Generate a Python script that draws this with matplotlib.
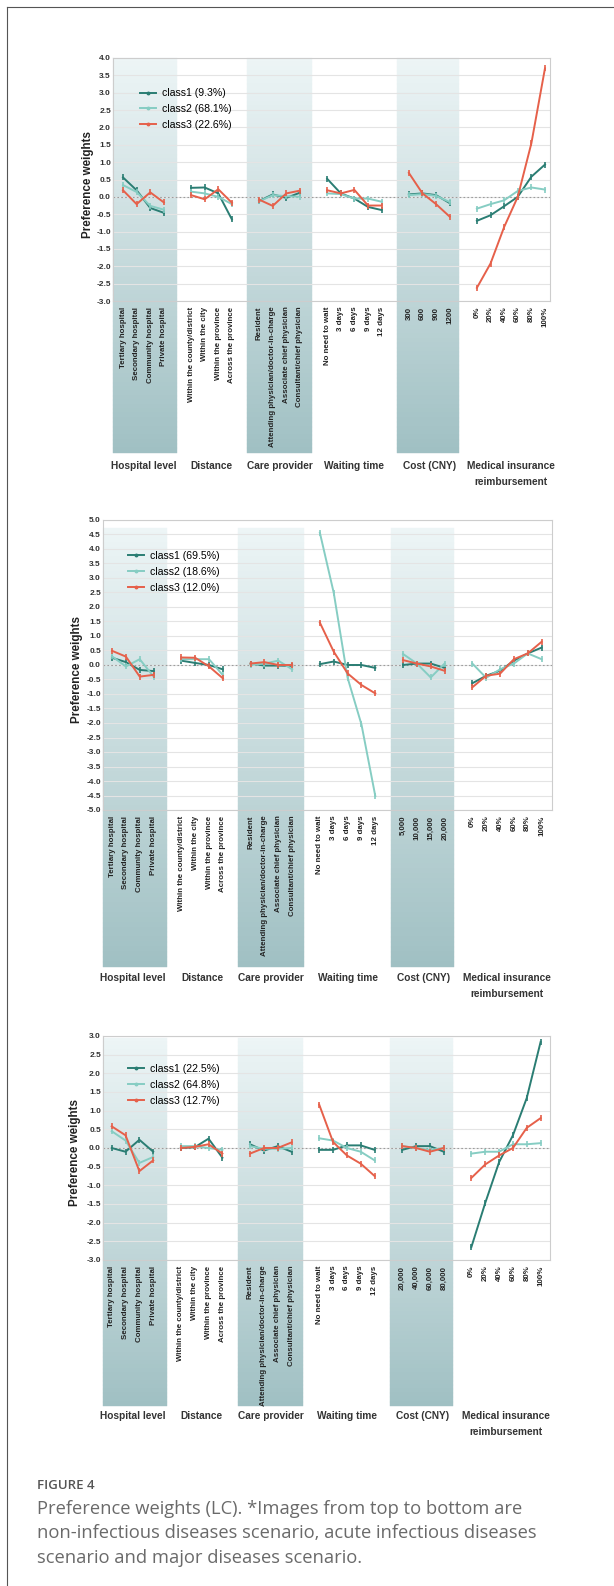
import numpy as np
import matplotlib
matplotlib.use("Agg")
import matplotlib.pyplot as plt
from matplotlib.patches import Rectangle
from matplotlib.lines import Line2D
import matplotlib.colors as mcolors

# ---------------------------------------------------------------- data
group_names = ["Hospital level", "Distance", "Care provider", "Waiting time",
               "Cost (CNY)", "Medical insurance\nreimbursement"]

hospital_levels = ["Tertiary hospital", "Secondary hospital",
                   "Community hospital", "Private hospital"]
distance_levels = ["Within the county/district", "Within the city",
                   "Within the province", "Across the province"]
care_levels = ["Resident", "Attending physician/doctor-in-charge",
               "Associate chief physician", "Consultant/chief physician"]
waiting_levels = ["No need to wait", "3 days", "6 days", "9 days", "12 days"]
cost_levels_noninf = ["300", "600", "900", "1200"]
cost_levels_acute = ["5,000", "10,000", "15,000", "20,000"]
cost_levels_major = ["20,000", "40,000", "60,000", "80,000"]
reimb_levels = ["0%", "20%", "40%", "60%", "80%", "100%"]

# Non-infectious diseases scenario
noninf_labels = ["class1 (9.3%)", "class2 (68.1%)", "class3 (22.6%)"]
noninf_class1 = [[0.56, 0.19, -0.32, -0.46], [0.26, 0.27, 0.10, -0.65],
                 [-0.12, 0.07, -0.03, 0.12], [0.52, 0.10, -0.05, -0.29, -0.38],
                 [0.07, 0.10, 0.05, -0.18], [-0.69, -0.53, -0.27, 0.00, 0.58, 0.93]]
noninf_class2 = [[0.34, 0.14, -0.26, -0.37], [0.15, 0.10, 0.00, -0.21],
                 [-0.13, 0.05, 0.02, 0.00], [0.10, 0.08, -0.05, -0.05, -0.14],
                 [0.05, 0.08, 0.03, -0.15], [-0.34, -0.21, -0.10, 0.17, 0.27, 0.21]]
noninf_class3 = [[0.19, -0.21, 0.13, -0.16], [0.05, -0.07, 0.22, -0.17],
                 [-0.08, -0.26, 0.10, 0.18], [0.19, 0.10, 0.20, -0.25, -0.25],
                 [0.69, 0.10, -0.21, -0.57], [-2.62, -1.92, -0.87, 0.00, 1.54, 3.70]]

# Acute infectious diseases scenario
acute_labels = ["class1 (69.5%)", "class2 (18.6%)", "class3 (12.0%)"]
acute_class1 = [[0.25, 0.10, -0.17, -0.21], [0.15, 0.07, 0.00, -0.15],
                [0.05, -0.02, -0.02, -0.03], [0.03, 0.12, 0.00, 0.00, -0.10],
                [0.00, 0.05, 0.05, -0.10], [-0.63, -0.37, -0.20, 0.15, 0.40, 0.60]]
acute_class2 = [[0.30, -0.05, 0.20, -0.40], [0.20, 0.20, 0.20, -0.35],
                [0.00, 0.05, 0.15, -0.15], [4.56, 2.49, -0.44, -2.05, -4.52],
                [0.38, 0.05, -0.43, 0.05], [0.05, -0.44, -0.15, 0.05, 0.40, 0.20]]
acute_class3 = [[0.49, 0.29, -0.40, -0.34], [0.26, 0.25, -0.05, -0.46],
                [0.05, 0.10, 0.00, 0.00], [1.46, 0.46, -0.29, -0.69, -0.98],
                [0.17, 0.05, -0.05, -0.20], [-0.77, -0.37, -0.30, 0.20, 0.40, 0.80]]

# Major diseases scenario
major_labels = ["class1 (22.5%)", "class2 (64.8%)", "class3 (12.7%)"]
major_class1 = [[0.00, -0.10, 0.22, -0.10], [0.00, 0.02, 0.25, -0.26],
                [0.10, -0.07, 0.05, -0.10], [-0.05, -0.05, 0.07, 0.07, -0.05],
                [-0.05, 0.05, 0.05, -0.10], [-2.65, -1.47, -0.38, 0.34, 1.34, 2.84]]
major_class2 = [[0.45, 0.20, -0.40, -0.24], [0.05, 0.05, 0.00, -0.05],
                [0.05, -0.02, -0.02, 0.00], [0.26, 0.20, 0.00, -0.10, -0.33],
                [0.05, 0.00, -0.05, 0.00], [-0.15, -0.10, -0.10, 0.10, 0.10, 0.13]]
major_class3 = [[0.58, 0.34, -0.62, -0.33], [0.00, 0.03, 0.10, -0.15],
                [-0.15, 0.00, 0.00, 0.15], [1.16, 0.16, -0.20, -0.42, -0.75],
                [0.05, 0.00, -0.10, 0.00], [-0.80, -0.44, -0.20, 0.00, 0.54, 0.80]]

# ---------------------------------------------------------------- style
W, H, DPI = 614, 1586, 100
CLASS_COLORS = ["#2a7d73", "#86cdc3", "#e6604a"]
FONT = ["Liberation Sans", "DejaVu Sans"]
plt.rcParams["font.family"] = FONT

fig = plt.figure(figsize=(W / DPI, H / DPI), dpi=DPI)
fig.patch.set_facecolor("white")


def px_axes(left, top, right, bottom):
    return fig.add_axes([left / W, 1 - bottom / H, (right - left) / W, (bottom - top) / H])


def band(ax, x0, x1, y_top, y_bot, n=90):
    """Vertical teal gradient band, x in data units, y in axes fraction."""
    trans = ax.get_xaxis_transform()
    c_top = np.array(mcolors.to_rgb("#edf5f6"))
    c_bot = np.array(mcolors.to_rgb("#a0c0c3"))
    edges = np.linspace(y_top, y_bot, n + 1)
    for i in range(n):
        t = (i + 0.5) / n
        col = c_top * (1 - t) + c_bot * t
        ax.add_patch(Rectangle((x0, edges[i + 1]), x1 - x0, edges[i] - edges[i + 1],
                               transform=trans, facecolor=col, edgecolor=col,
                               lw=0.3, zorder=0.2, clip_on=False))


def panel(box, ylim, xlim, classes, labels, cost_levels, band_top, band_bot,
          legend_anchor, group_y, ylabel_x):
    ax = px_axes(*box)
    level_groups = [hospital_levels, distance_levels, care_levels,
                    waiting_levels, cost_levels, reimb_levels]
    # positions: one empty slot between attributes
    positions, start = [], 0
    for g in level_groups:
        positions.append(np.arange(start, start + len(g)))
        start += len(g) + 1
    all_pos = np.concatenate(positions)
    all_lab = sum(level_groups, [])

    ax.set_xlim(*xlim)
    ax.set_ylim(*ylim)
    ax.set_axisbelow(True)

    # shaded attribute bands
    band(ax, xlim[0], positions[0][-1] + 1.0, band_top, band_bot)
    band(ax, positions[2][0] - 0.9, positions[2][-1] + 0.85, band_top, band_bot)
    band(ax, positions[4][0] - 0.9, positions[4][-1] + 0.7, band_top, band_bot)

    ax.axhline(0, color="#9c9c9c", lw=0.8, ls=(0, (1.5, 2.0)), zorder=1)

    for cls_vals, color in zip(classes, CLASS_COLORS):
        for pos, vals in zip(positions, cls_vals):
            ax.plot(pos, vals, color=color, lw=1.4, marker="|", ms=4.5,
                    mew=1.2, zorder=3, solid_joinstyle="round")

    yt = np.arange(ylim[0], ylim[1] + 0.001, 0.5)
    ax.set_yticks(yt)
    ax.set_yticklabels([f"{v:.1f}" for v in yt], fontsize=6.0, fontweight="bold",
                       color="#333333")
    ax.set_xticks(all_pos)
    ax.set_xticklabels(all_lab, rotation=90, fontsize=5.7, fontweight="bold",
                       color="#222222", va="top", ha="center")
    ax.tick_params(axis="both", length=0)
    ax.tick_params(axis="x", pad=4)
    ax.tick_params(axis="y", pad=1.5)
    ax.yaxis.grid(True, color="#e4e4e4", lw=0.8)
    ax.xaxis.grid(False)
    for sp in ax.spines.values():
        sp.set_color("#cdcdcd")
        sp.set_linewidth(0.8)

    handles = [Line2D([], [], color=c, lw=1.4, marker="o", ms=1.8)
               for c in CLASS_COLORS]
    ax.legend(handles, labels, loc="upper left", bbox_to_anchor=legend_anchor,
              frameon=False, fontsize=7.6, handlelength=1.5, handletextpad=0.55,
              labelspacing=0.55, borderpad=0, borderaxespad=0)

    # y-axis title
    left, top, right, bottom = box
    fig.text(ylabel_x / W, 1 - ((top + bottom) / 2 + 5) / H, "Preference weights",
             rotation=90, ha="center", va="center", fontsize=8.4,
             fontweight="bold", color="#222222")

    # attribute names below the tick labels
    x2px = lambda x: left + (x - xlim[0]) / (xlim[1] - xlim[0]) * (right - left)
    for pos, name in zip(positions, group_names):
        cx = x2px((pos[0] + pos[-1]) / 2)
        fig.text(cx / W, 1 - group_y / H, name, ha="center", va="top",
                 fontsize=7.3, fontweight="bold", color="#333333",
                 linespacing=1.75)
    return ax


panel((113, 58, 550, 301), (-3.0, 4.0), (-0.735, 31.37),
      [noninf_class1, noninf_class2, noninf_class3], noninf_labels,
      cost_levels_noninf, 1.0, -0.625, (0.062, 0.875), 461, 88)

panel((103, 520, 552, 810), (-5.0, 5.0), (-0.65, 31.75),
      [acute_class1, acute_class2, acute_class3], acute_labels,
      cost_levels_acute, 0.972, -0.54, (0.056, 0.893), 973, 77)

panel((103, 1036, 550, 1260), (-3.0, 3.0), (-0.63, 31.68),
      [major_class1, major_class2, major_class3], major_labels,
      cost_levels_major, 0.99, -0.65, (0.056, 0.875), 1411, 75)

# page frame
fig.add_artist(Line2D([7 / W, 1.0], [1 - 7 / H, 1 - 7 / H], color="#555555", lw=0.8))
fig.add_artist(Line2D([7 / W, 7 / W], [0.0, 1 - 7 / H], color="#555555", lw=0.8))

# caption
CAP_FONT = ["Open Sans", "DejaVu Sans"]
fig.text(37 / W, 1 - 1489 / H, "FIGURE 4", ha="left", va="baseline",
         fontsize=9.5, fontweight="semibold", color="#555555", family=CAP_FONT)
caption_lines = ["Preference weights (LC). *Images from top to bottom are",
                 "non-infectious diseases scenario, acute infectious diseases",
                 "scenario and major diseases scenario."]
for i, line in enumerate(caption_lines):
    fig.text(37 / W, 1 - (1514 + 24.5 * i) / H, line, ha="left", va="baseline",
             fontsize=13.2, color="#6a6a6a", family=CAP_FONT)

fig.savefig("out.png", dpi=DPI, facecolor="white")
